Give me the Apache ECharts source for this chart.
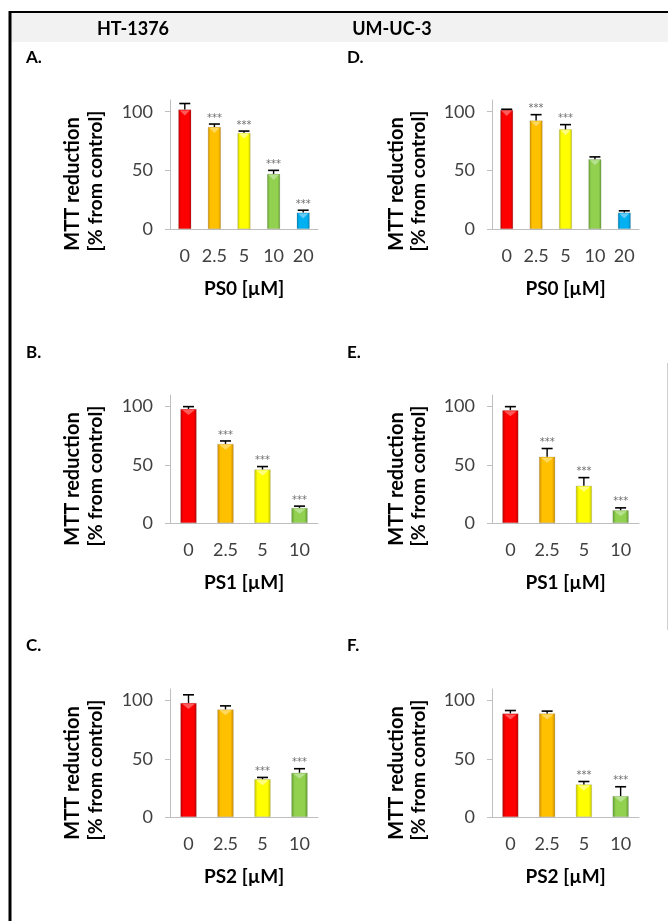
<!DOCTYPE html>
<html><head><meta charset="utf-8">
<script src="https://cdn.jsdelivr.net/npm/echarts@6/dist/echarts.min.js"></script>
<style>html,body{margin:0;padding:0;background:#fff}#c{width:668px;height:921px}</style>
</head><body><div id="c"></div>
<script>
// ---- data ----
const cellLines = ['HT-1376', 'UM-UC-3'];
const panelLetters = ['A.', 'B.', 'C.', 'D.', 'E.', 'F.'];
const doseCats5 = ['0', '2.5', '5', '10', '20'];
const doseCats4 = ['0', '2.5', '5', '10'];
const yTicks = [0, 50, 100];
const xNames = ['PS0 [µM]', 'PS1 [µM]', 'PS2 [µM]'];
const yNameLine1 = 'MTT reduction';
const yNameLine2 = '[% from control]';

const htPS0 = [102, 87, 82, 47, 14];
const htPS0Err = [5, 2.5, 1.5, 3, 2];
const htPS0Sig = [0, 1, 1, 1, 1];
const htPS1 = [98, 68, 46, 13];
const htPS1Err = [2, 2.5, 2.5, 1.5];
const htPS1Sig = [0, 1, 1, 1];
const htPS2 = [98, 92.5, 32.5, 38];
const htPS2Err = [7, 3, 1.5, 3.5];
const htPS2Sig = [0, 0, 1, 1];

const umPS0 = [101.5, 92.5, 85, 59.5, 14];
const umPS0Err = [0.6, 5, 4, 2, 1.5];
const umPS0Sig = [0, 1, 1, 0, 0];
const umPS1 = [97, 57, 32, 11];
const umPS1Err = [3, 7, 7, 2];
const umPS1Sig = [0, 1, 1, 1];
const umPS2 = [89, 89, 28, 18];
const umPS2Err = [2.5, 2, 2.5, 8];
const umPS2Sig = [0, 0, 1, 1];

// ---- styles ----
const palette = [
  {dark: '#b80000', mid: '#ff0000', tri: '#ff5a5a'},
  {dark: '#c98a00', mid: '#ffc000', tri: '#ffd860'},
  {dark: '#c4c400', mid: '#ffff00', tri: '#ffff80'},
  {dark: '#5e9a2c', mid: '#92d050', tri: '#b6e290'},
  {dark: '#0080b8', mid: '#00b0f0', tri: '#66ccf6'}
];
const FONT = 'Lato, "Open Sans", sans-serif';

const panels = [
  {cats: doseCats5, v: htPS0, e: htPS0Err, s: htPS0Sig, col: 0, row: 0, name: xNames[0], letter: panelLetters[0]},
  {cats: doseCats4, v: htPS1, e: htPS1Err, s: htPS1Sig, col: 0, row: 1, name: xNames[1], letter: panelLetters[1]},
  {cats: doseCats4, v: htPS2, e: htPS2Err, s: htPS2Sig, col: 0, row: 2, name: xNames[2], letter: panelLetters[2]},
  {cats: doseCats5, v: umPS0, e: umPS0Err, s: umPS0Sig, col: 1, row: 0, name: xNames[0], letter: panelLetters[3]},
  {cats: doseCats4, v: umPS1, e: umPS1Err, s: umPS1Sig, col: 1, row: 1, name: xNames[1], letter: panelLetters[4]},
  {cats: doseCats4, v: umPS2, e: umPS2Err, s: umPS2Sig, col: 1, row: 2, name: xNames[2], letter: panelLetters[5]}
];
const colLeft = [170, 492];
const colWidth = [148, 147];
const rowTop = [100, 395, 689];
const rowHeight = [129, 128, 128];
const letterX = [26, 347];
const letterY = [58, 353, 646];
const nameX1 = [73, 397];
const nameX2 = [96, 419];
const headerX = [133, 392];

function barGradient(i) {
  const c = palette[i];
  return new echarts.graphic.LinearGradient(0, 0, 1, 0, [
    {offset: 0, color: c.dark}, {offset: 0.2, color: c.mid},
    {offset: 0.8, color: c.mid}, {offset: 1, color: c.dark}
  ]);
}

function renderErr(params, api) {
  const i = api.value(0), v = api.value(1), e = api.value(2), s = api.value(3);
  const base = api.coord([i, v]);
  const top = api.coord([i, v + e]);
  const band = api.size([1, 0])[0];
  const bw = band * 0.44;
  const cap = 5.5;
  const c = palette[i];
  const ch = [
    {type: 'polygon', shape: {points: [[base[0] - bw * 0.38, base[1] + 1], [base[0] + bw * 0.38, base[1] + 1], [base[0], base[1] + 6]]},
      style: {fill: c.tri}},
    {type: 'line', shape: {x1: base[0], y1: base[1], x2: top[0], y2: top[1]}, style: {stroke: '#000', lineWidth: 1.4}},
    {type: 'line', shape: {x1: top[0] - cap, y1: top[1], x2: top[0] + cap, y2: top[1]}, style: {stroke: '#000', lineWidth: 1.6}}
  ];
  if (s) {
    ch.push({type: 'text', x: top[0], y: top[1] - 1,
      style: {text: '***', fill: '#6e6e6e', font: '10px "DejaVu Sans"', align: 'center', verticalAlign: 'bottom'}});
  }
  return {type: 'group', children: ch};
}

const grids = [], xAxes = [], yAxes = [], series = [], graphics = [];

// frame and header band
graphics.push({type: 'rect', shape: {x: 11, y: 13, width: 657, height: 29}, style: {fill: '#f2f2f2'}, z: 0});
graphics.push({type: 'line', shape: {x1: 9, y1: 12, x2: 668, y2: 12}, style: {stroke: '#000', lineWidth: 2}});
graphics.push({type: 'line', shape: {x1: 10, y1: 11, x2: 10, y2: 921}, style: {stroke: '#000', lineWidth: 3}});
graphics.push({type: 'line', shape: {x1: 667.5, y1: 363, x2: 667.5, y2: 630}, style: {stroke: '#cfcfcf', lineWidth: 1}});
cellLines.forEach((t, k) => {
  graphics.push({type: 'text', x: headerX[k], y: 29,
    style: {text: t, font: 'bold 18px ' + FONT, fill: '#000', align: 'center', verticalAlign: 'middle'}});
});

panels.forEach((p, k) => {
  const left = colLeft[p.col], top = rowTop[p.row];
  grids.push({left: left, top: top, width: colWidth[p.col], height: rowHeight[p.row]});
  xAxes.push({
    type: 'category', gridIndex: k, data: p.cats,
    axisLine: {lineStyle: {color: '#bfbfbf', width: 1}},
    axisTick: {show: false},
    axisLabel: {color: '#404040', fontFamily: FONT, fontSize: 18, margin: 18, interval: 0},
    name: p.name, nameLocation: 'middle', nameGap: 50,
    nameTextStyle: {color: '#000', fontFamily: FONT, fontWeight: 'bold', fontSize: 19}
  });
  yAxes.push({
    type: 'value', gridIndex: k, min: 0, max: 110, interval: 50,
    axisLine: {show: true, lineStyle: {color: '#bfbfbf', width: 1}},
    axisTick: {show: true, length: 5, customValues: yTicks, lineStyle: {color: '#bfbfbf'}},
    axisLabel: {color: '#404040', fontFamily: FONT, fontSize: 18, margin: 17, customValues: yTicks},
    splitLine: {show: false}
  });
  series.push({
    type: 'bar', xAxisIndex: k, yAxisIndex: k, barWidth: '44%',
    data: p.v.map((v, i) => ({value: v, itemStyle: {color: barGradient(i), borderColor: 'rgba(120,120,120,0.35)', borderWidth: 0.6}})),
    z: 2, silent: true
  });
  series.push({
    type: 'custom', xAxisIndex: k, yAxisIndex: k, renderItem: renderErr,
    encode: {x: 0, y: 1},
    data: p.v.map((v, i) => [i, v, p.e[i], p.s[i]]),
    z: 5, silent: true
  });
  graphics.push({type: 'text', x: letterX[p.col], y: letterY[p.row],
    style: {text: p.letter, font: 'bold 17px ' + FONT, fill: '#000', align: 'left', verticalAlign: 'middle'}});
  const cy = top + 84;
  graphics.push({type: 'text', x: nameX1[p.col], y: cy, rotation: Math.PI / 2,
    style: {text: yNameLine1, font: 'bold 20px ' + FONT, fill: '#000', align: 'center', verticalAlign: 'middle'}});
  graphics.push({type: 'text', x: nameX2[p.col], y: cy - 3, rotation: Math.PI / 2,
    style: {text: yNameLine2, font: 'bold 19.5px ' + FONT, fill: '#000', align: 'center', verticalAlign: 'middle'}});
});

const chart = echarts.init(document.getElementById('c'), null, {renderer: 'canvas'});
chart.setOption({
  backgroundColor: '#ffffff',
  animation: false,
  grid: grids, xAxis: xAxes, yAxis: yAxes, series: series,
  graphic: {elements: graphics}
});
</script>
</body></html>
